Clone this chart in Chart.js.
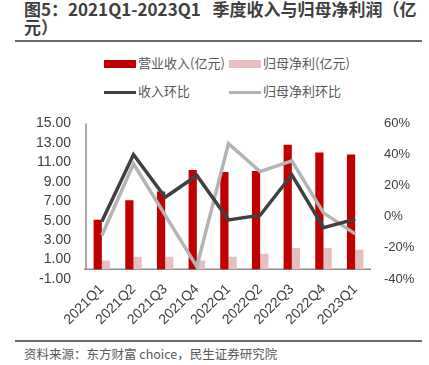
<!DOCTYPE html>
<html>
<head>
<meta charset="utf-8">
<script src="https://cdn.jsdelivr.net/npm/chart.js@4/dist/chart.umd.min.js"></script>
<style>
  body { margin: 0; width: 429px; height: 365px; background: #fff; overflow: hidden; position: relative;
         font-family: "Noto Sans CJK SC", "Liberation Sans", sans-serif; }
  .title { position: absolute; left: 24px; top: 0px; width: 396px; font-size: 17px; font-weight: bold;
           line-height: 18px; color: #3f3f3f; }
  .rule { position: absolute; left: 15px; width: 407px; height: 2px; background: #6b6b6b; }
  .legend-item { position: absolute; font-size: 13px; color: #595959; line-height: 16px; white-space: nowrap; }
  .legend-item span.sw { display: inline-block; width: 32px; vertical-align: middle; margin-right: 2px; }
  .source { position: absolute; left: 24px; top: 344px; font-size: 12.5px; color: #595959; }
  #wrap { position: absolute; left: 0; top: 100px; width: 429px; height: 240px; }
</style>
</head>
<body>
<div class="title">图5：2021Q1-2023Q1&nbsp;&nbsp; 季度收入与归母净利润（亿元）</div>
<div class="rule" style="top:40px"></div>
<div id="legend"></div>
<div id="wrap"><canvas id="chart"></canvas></div>
<div class="rule" style="top:340px"></div>
<div class="source">资料来源：东方财富 choice，民生证券研究院</div>

<script>
// 数据
const quarters = ['2021Q1', '2021Q2', '2021Q3', '2021Q4', '2022Q1', '2022Q2', '2022Q3', '2022Q4', '2023Q1'];
const revenue = [5.1, 7.1, 8.0, 10.2, 10.0, 10.1, 12.8, 12.0, 11.8];      // 营业收入(亿元)
const netProfit = [0.9, 1.3, 1.3, 0.9, 1.3, 1.6, 2.2, 2.2, 2.0];          // 归母净利(亿元)
const revenueQoQ = [-3, 40, 12.5, 26.5, -2, 1, 27, -7, -1.5];             // 收入环比 (%)
const profitQoQ = [-12, 34, 1, -32, 47, 29, 36, 2.5, -11];                // 归母净利环比 (%)
const leftTicks = [-1, 1, 3, 5, 7, 9, 11, 13, 15];
const rightTicks = [-40, -20, 0, 20, 40, 60];

const tickFont = { family: '"Liberation Sans", sans-serif', size: 14 };

// 零轴线 + 左轴竖线
const zeroLine = {
    id: 'zeroLine',
    beforeDatasetsDraw(chart) {
        const { ctx, chartArea, scales } = chart;
        const y0 = scales.y.getPixelForValue(0);
        ctx.save();
        ctx.strokeStyle = '#8c8c8c';
        ctx.lineWidth = 1.5;
        ctx.beginPath();
        ctx.moveTo(chartArea.left - 2, y0);
        ctx.lineTo(chartArea.right, y0);
        ctx.moveTo(chartArea.left, chartArea.top);
        ctx.lineTo(chartArea.left, y0);
        ctx.stroke();
        ctx.restore();
    }
};

const chart = new Chart(document.getElementById('chart').getContext('2d'), {
    type: 'bar',
    data: {
        labels: quarters,
        datasets: [
            { type: 'line', label: '收入环比', data: revenueQoQ, yAxisID: 'y2', borderColor: '#404040',
              borderWidth: 3.5, pointRadius: 0, tension: 0, order: 0 },
            { type: 'line', label: '归母净利环比', data: profitQoQ, yAxisID: 'y2', borderColor: '#b4b4b4',
              borderWidth: 3.5, pointRadius: 0, tension: 0, order: 1 },
            { label: '营业收入(亿元)', data: revenue, yAxisID: 'y', backgroundColor: '#c00000', order: 2 },
            { label: '归母净利(亿元)', data: netProfit, yAxisID: 'y', backgroundColor: '#e8bfc0', order: 3 }
        ]
    },
    options: {
        responsive: true,
        maintainAspectRatio: false,
        animation: false,
        layout: { padding: { top: 19, left: 0, right: 0, bottom: 0 } },
        datasets: { bar: { categoryPercentage: 0.52, barPercentage: 1.0 } },
        plugins: { legend: { display: false }, tooltip: { enabled: false } },
        scales: {
            x: {
                grid: { display: false, drawTicks: false },
                border: { display: false },
                ticks: { color: '#404040', font: tickFont, minRotation: 45, maxRotation: 45, padding: 2, autoSkip: false },
                afterFit(scale) { scale.height = 61; }
            },
            y: {
                position: 'left',
                min: -1, max: 15,
                grid: { display: false, drawTicks: false },
                border: { display: false },
                afterBuildTicks(scale) { scale.ticks = leftTicks.map(v => ({ value: v })); },
                ticks: { color: '#404040', font: tickFont, padding: 15, autoSkip: false, callback: v => v.toFixed(2) },
                afterFit(scale) { scale.width = 86; }
            },
            y2: {
                position: 'right',
                min: -40, max: 60,
                grid: { display: false, drawTicks: false },
                border: { display: false },
                afterBuildTicks(scale) { scale.ticks = rightTicks.map(v => ({ value: v })); },
                ticks: { color: '#404040', font: { family: '"Liberation Sans", sans-serif', size: 13 },
                         padding: 13, autoSkip: false, callback: v => v + '%' },
                afterFit(scale) { scale.width = 58; }
            }
        }
    },
    plugins: [zeroLine]
});

// HTML 图例
const legendPos = {
    '营业收入(亿元)': [104, 55], '归母净利(亿元)': [229, 55],
    '收入环比': [104, 83], '归母净利环比': [229, 83]
};
const legendEl = document.getElementById('legend');
chart.data.datasets.forEach(ds => {
    const p = legendPos[ds.label];
    const item = document.createElement('div');
    item.className = 'legend-item';
    item.style.left = p[0] + 'px';
    item.style.top = p[1] + 'px';
    const isLine = ds.type === 'line';
    const sw = isLine
        ? `<span class="sw" style="height:3px;background:${ds.borderColor}"></span>`
        : `<span class="sw" style="height:8px;background:${ds.backgroundColor}"></span>`;
    item.innerHTML = sw + ds.label;
    legendEl.appendChild(item);
});
</script>
</body>
</html>
